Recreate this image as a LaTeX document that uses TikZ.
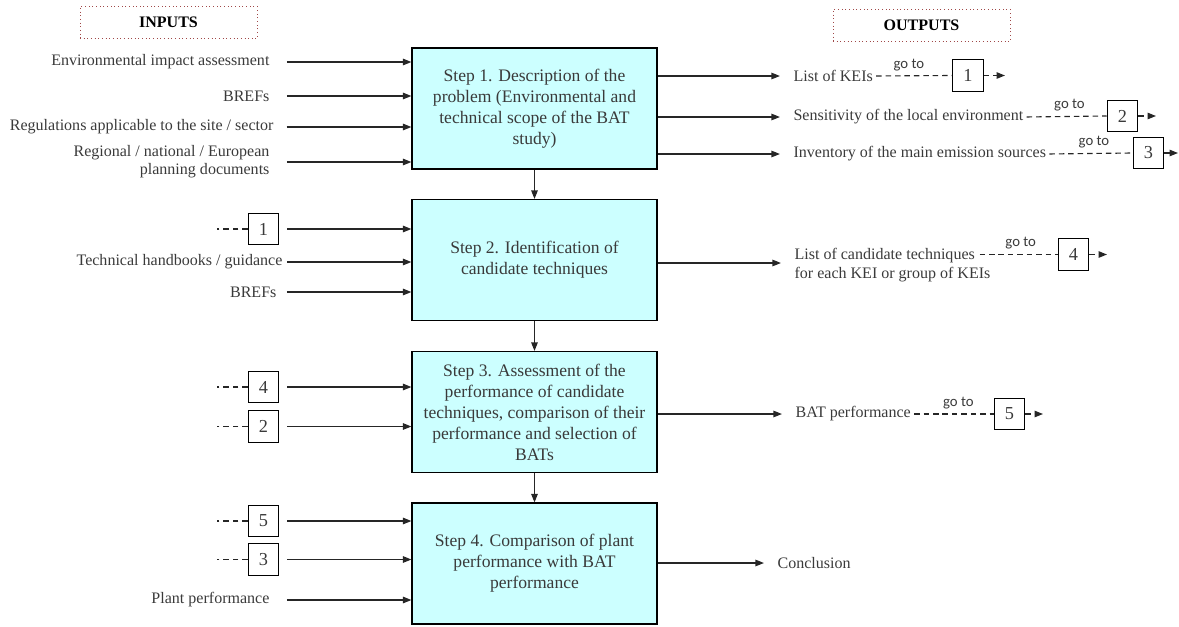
\documentclass[tikz,border=0pt]{standalone}
\usepackage{fontspec}
\setmainfont{Liberation Serif}
\newfontfamily\gotofont{Carlito}
\usepackage{xcolor}
\usepackage{tikz}
\usetikzlibrary{arrows.meta, positioning, calc}

\definecolor{boxcyan}{HTML}{CCFFFF}
\definecolor{inktext}{HTML}{3A3A3A}
\definecolor{hdrred}{HTML}{A04848}

\begin{document}
\begin{tikzpicture}[x=0.025cm, y=-0.025cm, >={Triangle[length=6pt,width=4.6pt]},
  line width=0.8pt, color=black!85,
  stepbox/.style={draw=black, fill=boxcyan, minimum width=6.125cm, minimum height=3.025cm,
    align=center, text=inktext, font=\fontsize{12.5}{14.9}\selectfont},
  inlbl/.style={anchor=east, inner sep=0pt, align=right, text=inktext, font=\fontsize{11.4}{12.8}\selectfont},
  outlbl/.style={anchor=west, inner sep=0pt, align=left, text=inktext, font=\fontsize{11.4}{12.8}\selectfont},
  gonum/.style={draw=black, minimum width=0.76cm, minimum height=0.78cm, inner sep=0pt,
    text=inktext, font=\fontsize{13}{14}\selectfont},
  goto/.style={above, inner sep=3.2pt, text=inktext, font=\gotofont\fontsize{10.5}{11}\selectfont},
  header/.style={draw=hdrred, dotted, line width=0.6pt, minimum width=4.425cm, minimum height=0.8cm,
    text=black, font=\bfseries\fontsize{11.4}{13}\selectfont},
  gdash/.style={dash pattern=on 3.9pt off 2.8pt},
  inarr/.style={->, shorten <=12pt},
  outarr/.style={->, shorten >=9.3pt}]

\useasboundingbox (0,0) rectangle (1179,626);

% Headers
\node[header] (hin) at (168.5,22.5) {INPUTS};
\node[header] (hout) at (921.5,25.5) {OUTPUTS};

% Steps
\node[stepbox] (s1) at (534.5,108.5) {Step 1. Description of the\\problem (Environmental and\\technical scope of the BAT\\study)};
\node[stepbox] (s2) at (534.5,260) {Step 2. Identification of\\candidate techniques};
\node[stepbox] (s3) at (534.5,412) {Step 3. Assessment of the\\performance of candidate\\techniques, comparison of their\\performance and selection of\\BATs};
\node[stepbox] (s4) at (534.5,563.5) {Step 4. Comparison of plant\\performance with BAT\\performance};

\draw[->] (s1) -- (s2);
\draw[->] (s2) -- (s3);
\draw[->] (s3) -- (s4);

% Inputs of step 1
\node[inlbl] (eia) at (270,62) {Environmental impact assessment};
\node[inlbl] (bref1) at (270,96) {BREFs};
\node[inlbl] (regs) at (274,127) {Regulations applicable to the site / sector};
\node[inlbl] (plan) at (270,162) {Regional / national / European\\planning documents};
\draw[inarr] (eia.east) -- (eia -| s1.west);
\draw[inarr] (bref1.east) -- (bref1 -| s1.west);
\draw[inarr, shorten <=9pt] (regs.east) -- (regs -| s1.west);
\draw[inarr] (plan.east) -- (plan -| s1.west);

% Inputs of step 2
\node[gonum] (n1) at (263.5,229) {1};
\node[inlbl] (hand) at (283,262) {Technical handbooks / guidance};
\node[inlbl] (bref2) at (277,292) {BREFs};
\draw[gdash] (n1.west) -- ++(-31,0);
\draw[inarr, shorten <=5.7pt] (n1.east) -- (n1 -| s2.west);
\draw[inarr, shorten <=3pt] (hand.east) -- (hand -| s2.west);
\draw[inarr, shorten <=7pt] (bref2.east) -- (bref2 -| s2.west);

% Inputs of step 3
\node[gonum] (n4) at (263.5,387) {4};
\node[gonum] (n2) at (263.5,426.5) {2};
\draw[gdash] (n4.west) -- ++(-31,0);
\draw[gdash] (n2.west) -- ++(-31,0);
\draw[inarr, shorten <=5.7pt] (n4.east) -- (n4 -| s3.west);
\draw[inarr, shorten <=5.7pt] (n2.east) -- (n2 -| s3.west);

% Inputs of step 4
\node[gonum] (n5) at (263.5,521) {5};
\node[gonum] (n3) at (263.5,559.5) {3};
\node[inlbl] (perf) at (270,600) {Plant performance};
\draw[gdash] (n5.west) -- ++(-31,0);
\draw[gdash] (n3.west) -- ++(-31,0);
\draw[inarr, shorten <=5.7pt] (n5.east) -- (n5 -| s4.west);
\draw[inarr, shorten <=5.7pt] (n3.east) -- (n3 -| s4.west);
\draw[inarr] (perf.east) -- (perf -| s4.west);

% Outputs of step 1
\node[outlbl] (kei) at (793,76) {List of KEIs};
\node[outlbl] (sens) at (793,117) {Sensitivity of the local environment};
\node[outlbl] (inv) at (793,154) {Inventory of the main emission sources};
\draw[outarr] (s1.east |- kei) -- (kei.west);
\draw[outarr] (s1.east |- sens) -- (sens.west);
\draw[outarr] (s1.east |- inv) -- (inv.west);

\node[gonum] (g1) at (968,75.5) {1};
\node[gonum] (g2) at (1122.5,116) {2};
\node[gonum] (g3) at (1148.5,153) {3};
\coordinate (e1) at (1005,75.5);
\coordinate (e2) at (1156,116);
\coordinate (e3) at (1178,153);
\draw[gdash, shorten <=2pt] (kei.east) -- node[goto, pos=0.45] {go to} (g1.west);
\draw[gdash, shorten <=2pt] (sens.east) -- node[goto, pos=0.55] {go to} (g2.west);
\draw[gdash, shorten <=2pt] (inv.east) -- node[goto, pos=0.55] {go to} (g3.west);
\draw[gdash, ->] (g1.east) -- (e1);
\draw[gdash, ->] (g2.east) -- (e2);
\draw[gdash, ->] (g3.east) -- (e3);

% Outputs of step 2
\node[outlbl] (cand) at (794,256) {List of candidate techniques};
\node[outlbl] (candb) at (794,275) {for each KEI or group of KEIs};
\coordinate (o4) at (794,263);
\draw[outarr] (s2.east |- o4) -- (o4);
\node[gonum] (g4) at (1073.5,254.5) {4};
\coordinate (e4) at (1107,254.5);
\draw[gdash, shorten <=3pt] (cand.east |- g4) -- node[goto, pos=0.55] {go to} (g4.west);
\draw[gdash, ->] (g4.east) -- (e4);

% Outputs of step 3
\node[outlbl] (batp) at (795,414) {BAT performance};
\draw[outarr] (s3.east |- batp) -- (batp.west);
\node[gonum] (g5) at (1009.5,414) {5};
\coordinate (e5) at (1043,414);
\draw[gdash, shorten <=2pt] (batp.east) -- node[goto, pos=0.57] {go to} (g5.west);
\draw[gdash, ->] (g5.east) -- (e5);

% Output of step 4
\node[outlbl] (concl) at (777,563) {Conclusion};
\draw[outarr] (s4.east |- concl) -- (concl.west);

\end{tikzpicture}
\end{document}
